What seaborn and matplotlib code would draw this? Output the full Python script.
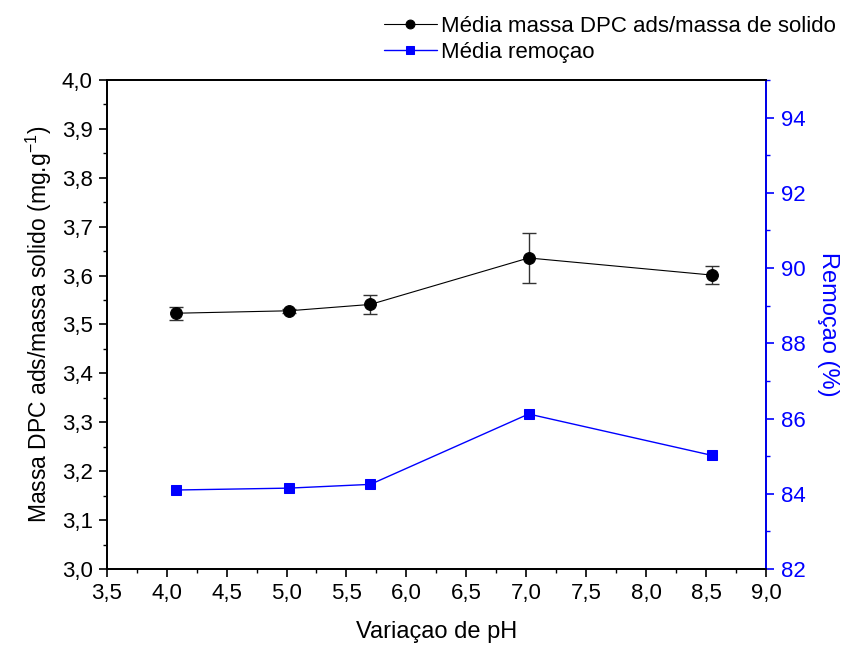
import matplotlib
matplotlib.use("Agg")
import matplotlib.pyplot as plt
import seaborn as sns
from matplotlib.ticker import MultipleLocator, FuncFormatter

# Data
ph = [4.08, 5.02, 5.70, 7.02, 8.55]
massa_media = [3.523, 3.528, 3.541, 3.636, 3.601]
massa_erro = [0.013, 0.004, 0.019, 0.052, 0.018]
remocao_media = [84.10, 84.15, 84.25, 86.12, 85.02]

sns.set_style("ticks")
plt.rcParams["font.family"] = ["Liberation Sans", "DejaVu Sans"]
plt.rcParams["mathtext.fontset"] = "custom"
plt.rcParams["mathtext.rm"] = "Liberation Sans"
plt.rcParams["text.color"] = "black"
plt.rcParams["axes.labelcolor"] = "black"

fig = plt.figure(figsize=(8.45, 6.5), dpi=100)
ax = fig.add_axes([0.1263, 0.1246, 0.7802, 0.7524])
ax2 = ax.twinx()

# Left series: mass ratio with error bars
ax.errorbar(ph, massa_media, yerr=massa_erro, fmt="none", ecolor="#333333",
            elinewidth=1.0, capsize=5, capthick=1.0, zorder=2)
sns.lineplot(x=ph, y=massa_media, ax=ax, color="black", linewidth=0.8,
             marker="o", markersize=8.5, markeredgecolor="black",
             label="Média massa DPC ads/massa de solido", legend=False, zorder=3)

# Right series: removal
sns.lineplot(x=ph, y=remocao_media, ax=ax2, color="blue", linewidth=1.0,
             marker="s", markersize=7, markeredgecolor="blue",
             label="Média remoçao", legend=False, zorder=3)

comma = lambda fmt: FuncFormatter(lambda v, p: (fmt % v).replace(".", ","))

ax.set_xlim(3.5, 9.0)
ax.set_ylim(3.0, 4.0)
ax.xaxis.set_major_locator(MultipleLocator(0.5))
ax.xaxis.set_minor_locator(MultipleLocator(0.25))
ax.yaxis.set_major_locator(MultipleLocator(0.1))
ax.yaxis.set_minor_locator(MultipleLocator(0.05))
ax.xaxis.set_major_formatter(comma("%.1f"))
ax.yaxis.set_major_formatter(comma("%.1f"))

ax2.set_ylim(82, 95)
ax2.yaxis.set_major_locator(MultipleLocator(2))
ax2.yaxis.set_minor_locator(MultipleLocator(1))

for a in (ax, ax2):
    for s in a.spines.values():
        s.set_linewidth(1.3)
        s.set_color("black")
ax2.spines["right"].set_color("blue")

ax.tick_params(axis="both", which="major", direction="out", length=6, width=1.2,
               labelsize=16, colors="black", pad=4)
ax.tick_params(axis="both", which="minor", direction="out", length=3, width=1.0,
               colors="black")
ax.tick_params(top=False, right=False, which="both")
ax2.tick_params(axis="y", which="major", direction="out", length=6, width=1.2,
                labelsize=16, colors="blue", pad=5)
ax2.tick_params(axis="y", which="minor", direction="out", length=3, width=1.0,
                colors="blue")

ax.set_xlabel("Variaçao de pH", fontsize=17, labelpad=12)
ax.set_ylabel("Massa DPC ads/massa solido (mg.g$^{-1}$)", fontsize=16.5, labelpad=6)
ax2.set_ylabel("Remoçao (%)", fontsize=17, color="blue", rotation=270, labelpad=24)

h1, l1 = ax.get_legend_handles_labels()
h2, l2 = ax2.get_legend_handles_labels()
fig.legend(h1 + h2, l1 + l2, loc="upper right", bbox_to_anchor=(1.008, 1.0),
           frameon=False, fontsize=16, handlelength=2.4, handletextpad=0.2,
           labelspacing=0.25, borderaxespad=0.3, markerscale=0.75)

fig.savefig("out.png", dpi=100)
